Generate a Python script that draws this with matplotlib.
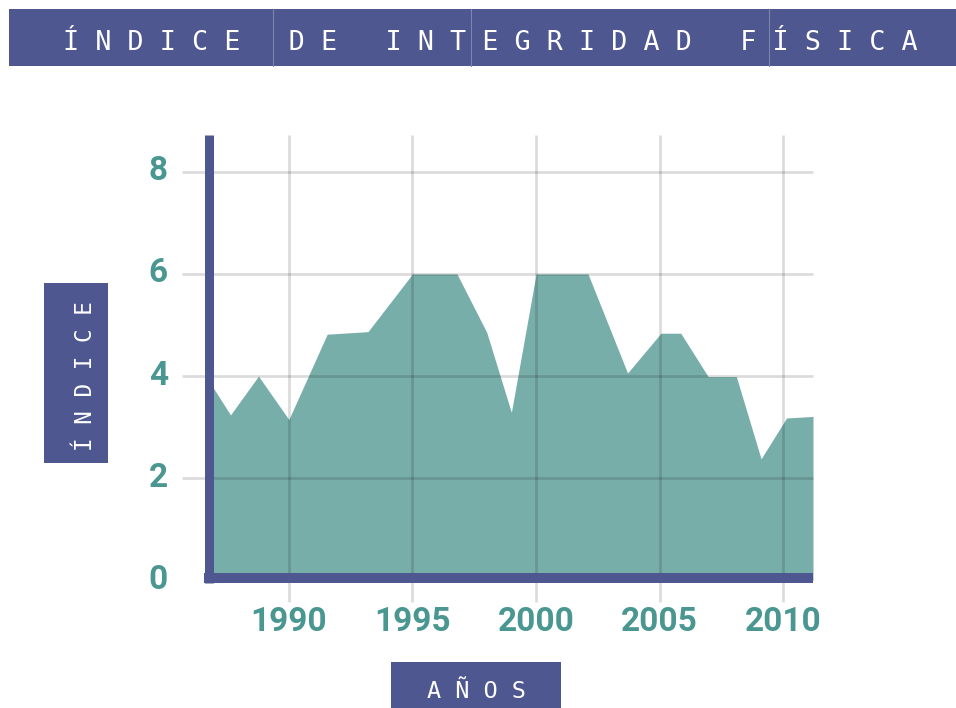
import matplotlib
matplotlib.use("Agg")
import matplotlib.pyplot as plt
import matplotlib.transforms as mtransforms
from matplotlib.patches import Rectangle
from matplotlib.lines import Line2D

# ---- data ----
years = [1986.93, 1987.64, 1988.77, 1990.0, 1991.55, 1993.2, 1995.0, 1996.8,
         1998.0, 1999.0, 2000.0, 2002.1, 2003.7, 2005.05, 2005.85, 2006.96,
         2008.1, 2009.1, 2010.13, 2011.2]
index_values = [3.78, 3.24, 4.0, 3.15, 4.82, 4.87, 6.0, 6.0,
                4.86, 3.29, 6.0, 6.0, 4.06, 4.84, 4.84, 3.99,
                3.99, 2.38, 3.18, 3.21]
x_ticks = [1990, 1995, 2000, 2005, 2010]
y_ticks = [0, 2, 4, 6, 8]
title_text = "ÍNDICE DE INTEGRIDAD FÍSICA"
ylabel_text = "ÍNDICE"
xlabel_text = "AÑOS"

# ---- style ----
W, H = 956, 708
DPI = 100
BANNER = "#4e578f"
FILL = "#78aeaa"
TICK_COLOR = "#4a9690"
GRID = (0, 0, 0, 0.14)
PT = 72.0 / DPI  # points per pixel

fig = plt.figure(figsize=(W / DPI, H / DPI), dpi=DPI)
fig.patch.set_facecolor("white")


def fx(px):
    return px / W


def fy(py):
    return (H - py) / H


# axes box in pixels
ax_l, ax_r, ax_t, ax_b = 209, 813, 135, 580.4
ax = fig.add_axes([fx(ax_l), fy(ax_b), fx(ax_r - ax_l), (ax_b - ax_t) / H])
ax.set_facecolor("none")
ax.set_xlim(1986.77, 2011.2)
ax.set_ylim(0, 8.72)
for s in ax.spines.values():
    s.set_visible(False)

# area
ax.fill_between(years, index_values, 0, color=FILL, linewidth=0, zorder=1)

# grid lines, extending beyond axes like ticks
gw = 2.7 * PT
ext_x = (181.7 - ax_l) / (ax_r - ax_l)
ext_y = (ax_b - 601.7) / (ax_b - ax_t)
for v in y_ticks:
    if v == 0:
        continue
    ax.plot([ext_x, 1], [v, v], transform=ax.get_yaxis_transform(),
            color=GRID, lw=gw, clip_on=False, zorder=2, solid_capstyle="butt")
for v in x_ticks:
    ax.plot([v, v], [ext_y, 1], transform=ax.get_xaxis_transform(),
            color=GRID, lw=gw, clip_on=False, zorder=2, solid_capstyle="butt")

# heavy axis lines
left_y0 = (ax_b - 583) / (ax_b - ax_t)
ax.add_line(Line2D([0, 0], [left_y0, 1], transform=ax.transAxes, color=BANNER,
                   lw=9 * PT, clip_on=False, zorder=3, solid_capstyle="butt"))
bot_y = (ax_b - 578) / (ax_b - ax_t)
bot_x0 = (204 - ax_l) / (ax_r - ax_l)
ax.add_line(Line2D([bot_x0, 1], [bot_y, bot_y], transform=ax.transAxes, color=BANNER,
                   lw=10 * PT, clip_on=False, zorder=3, solid_capstyle="butt"))

# ticks
ax.set_xticks(x_ticks)
ax.set_yticks(y_ticks)
ax.set_xticklabels([str(t) for t in x_ticks])
ax.set_yticklabels([str(t) for t in y_ticks])
ax.tick_params(axis="both", length=0, colors=TICK_COLOR, labelsize=24)
ax.tick_params(axis="y", pad=41 * PT)
ax.tick_params(axis="x", pad=26 * PT)
for lab in ax.get_xticklabels() + ax.get_yticklabels():
    lab.set_fontfamily("Roboto")
    lab.set_fontweight("bold")
    lab.set_color(TICK_COLOR)
offset = mtransforms.ScaledTranslation(0, 4 / DPI, fig.dpi_scale_trans)
for lab in ax.get_yticklabels():
    lab.set_transform(lab.get_transform() + offset)

# ---- title banner ----
fig.patches.append(Rectangle((fx(9), fy(65.7)), fx(956 - 9), (65.7 - 9) / H,
                             transform=fig.transFigure, facecolor=BANNER,
                             edgecolor="none", zorder=0))
for lx in [273.3, 471, 769.3]:
    fig.lines.append(Line2D([fx(lx), fx(lx)], [fy(9), fy(65.7)],
                            transform=fig.transFigure, color="#7d85b0", lw=1 * PT))


def spaced(s):
    return " ".join(list(s))


mono = "DejaVu Sans Mono"
fig.text(fx(490), fy(50), spaced(title_text), color="white", family=mono,
         fontsize=19.3, ha="center", va="baseline")

# ---- y label box ----
fig.patches.append(Rectangle((fx(44), fy(463.3)), fx(107.7 - 44), (463.3 - 283.3) / H,
                             transform=fig.transFigure, facecolor=BANNER,
                             edgecolor="none", zorder=0))
fig.text(fx(91.7), fy(376), spaced(ylabel_text), color="white", family=mono,
         fontsize=16.3, ha="center", va="baseline", rotation=90,
         rotation_mode="anchor")

# ---- x label box ----
fig.patches.append(Rectangle((fx(391), fy(708)), fx(561 - 391), (708 - 662) / H,
                             transform=fig.transFigure, facecolor=BANNER,
                             edgecolor="none", zorder=0))
fig.text(fx(476), fy(698), spaced(xlabel_text), color="white", family=mono,
         fontsize=16.9, ha="center", va="baseline")

fig.savefig("out.png", dpi=DPI)
